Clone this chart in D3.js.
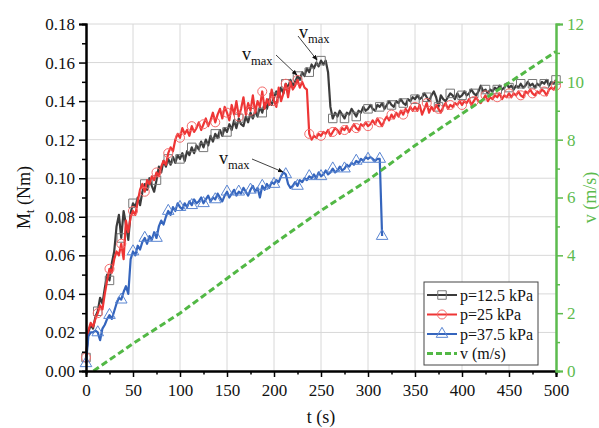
<!DOCTYPE html>
<html>
<head>
<meta charset="utf-8">
<script src="https://cdn.jsdelivr.net/npm/d3@7/dist/d3.min.js"></script>
<style>
body { margin: 0; background: #fff; }
svg text { font-family: "Liberation Serif", "DejaVu Serif", serif; }
</style>
</head>
<body>
<svg width="599" height="428"></svg>
<script>
/*
*/

const STEP = 2.5;

var torque12 = [
	0.007, 0.020, 0.024, 0.022, 0.028, 0.031, 0.038, 0.035, 0.043, 0.050, 0.047, 0.056, 0.062, 0.075, 0.081, 0.069, 0.083, 0.076, 0.068, 0.082, 0.087,
	0.085, 0.090, 0.086, 0.093, 0.097, 0.094, 0.100, 0.096, 0.093, 0.099, 0.106, 0.103, 0.109, 0.106, 0.110, 0.107, 0.111, 0.108, 0.112, 0.110,
	0.113, 0.109, 0.114, 0.112, 0.116, 0.113, 0.117, 0.115, 0.119, 0.116, 0.120, 0.117, 0.122, 0.119, 0.123, 0.121, 0.125, 0.122, 0.126, 0.124,
	0.128, 0.125, 0.130, 0.126, 0.131, 0.128, 0.127, 0.132, 0.129, 0.134, 0.131, 0.135, 0.132, 0.137, 0.134, 0.139, 0.136, 0.141, 0.138, 0.142,
	0.145, 0.142, 0.147, 0.144, 0.149, 0.147, 0.151, 0.148, 0.150, 0.153, 0.151, 0.155, 0.153, 0.157, 0.155, 0.159, 0.157, 0.160, 0.158, 0.161,
	0.159, 0.161, 0.155, 0.137, 0.131, 0.134, 0.132, 0.135, 0.133, 0.131, 0.134, 0.133, 0.136, 0.134, 0.132, 0.135, 0.134, 0.137, 0.135, 0.136,
	0.138, 0.136, 0.135, 0.138, 0.137, 0.139, 0.136, 0.138, 0.140, 0.138, 0.137, 0.140, 0.139, 0.141, 0.139, 0.138, 0.141, 0.140, 0.142, 0.141,
	0.143, 0.141, 0.142, 0.144, 0.142, 0.140, 0.143, 0.145, 0.142, 0.137, 0.143, 0.141, 0.140, 0.142, 0.144, 0.143, 0.141, 0.144, 0.142, 0.143,
	0.145, 0.143, 0.144, 0.146, 0.144, 0.143, 0.145, 0.148, 0.145, 0.146, 0.144, 0.146, 0.145, 0.147, 0.146, 0.148, 0.146, 0.147, 0.149, 0.147,
	0.148, 0.146, 0.148, 0.147, 0.149, 0.147, 0.148, 0.150, 0.148, 0.149, 0.147, 0.149, 0.148, 0.150, 0.149, 0.151, 0.148, 0.150, 0.149, 0.151
];

var torque25 = [
	0.007, 0.021, 0.025, 0.023, 0.027, 0.030, 0.034, 0.032, 0.040, 0.047, 0.053, 0.051, 0.058, 0.062, 0.060, 0.066, 0.058, 0.078, 0.072, 0.080, 0.083,
	0.081, 0.088, 0.094, 0.097, 0.093, 0.099, 0.097, 0.101, 0.099, 0.103, 0.101, 0.106, 0.109, 0.107, 0.113, 0.116, 0.114, 0.120, 0.123, 0.121,
	0.126, 0.123, 0.125, 0.122, 0.127, 0.124, 0.126, 0.129, 0.125, 0.128, 0.131, 0.127, 0.130, 0.134, 0.129, 0.133, 0.136, 0.131, 0.137, 0.134,
	0.130, 0.138, 0.133, 0.140, 0.132, 0.136, 0.142, 0.133, 0.139, 0.135, 0.143, 0.134, 0.140, 0.137, 0.145, 0.136, 0.141, 0.138, 0.146, 0.140,
	0.137, 0.147, 0.140, 0.144, 0.149, 0.142, 0.150, 0.146, 0.148, 0.151, 0.147, 0.150, 0.147, 0.146, 0.123, 0.120, 0.122, 0.121, 0.123, 0.122,
	0.124, 0.123, 0.125, 0.122, 0.124, 0.126, 0.125, 0.123, 0.126, 0.125, 0.127, 0.124, 0.126, 0.128, 0.126, 0.125, 0.128, 0.127, 0.129, 0.127,
	0.128, 0.130, 0.128, 0.131, 0.129, 0.127, 0.130, 0.132, 0.130, 0.133, 0.131, 0.134, 0.132, 0.135, 0.133, 0.136, 0.134, 0.137, 0.135, 0.137,
	0.135, 0.138, 0.133, 0.136, 0.139, 0.134, 0.137, 0.135, 0.138, 0.136, 0.134, 0.137, 0.139, 0.136, 0.138, 0.137, 0.139, 0.138, 0.140, 0.138,
	0.140, 0.139, 0.141, 0.138, 0.140, 0.142, 0.140, 0.139, 0.141, 0.143, 0.140, 0.142, 0.141, 0.143, 0.142, 0.144, 0.141, 0.143, 0.142, 0.144,
	0.142, 0.144, 0.143, 0.145, 0.143, 0.142, 0.145, 0.144, 0.146, 0.144, 0.143, 0.145, 0.144, 0.146, 0.145, 0.143, 0.146, 0.147, 0.146, 0.148
];

var torque37 = [
	0.004, 0.018, 0.020, 0.020, 0.021, 0.020, 0.016, 0.022, 0.024, 0.027, 0.029, 0.027, 0.031, 0.035, 0.038, 0.037, 0.041, 0.044, 0.040, 0.058, 0.062,
	0.060, 0.065, 0.063, 0.067, 0.069, 0.066, 0.070, 0.068, 0.072, 0.069, 0.075, 0.078, 0.076, 0.080, 0.083, 0.081, 0.085, 0.083, 0.087, 0.085,
	0.084, 0.087, 0.085, 0.088, 0.086, 0.089, 0.087, 0.088, 0.090, 0.087, 0.089, 0.091, 0.088, 0.090, 0.089, 0.092, 0.090, 0.088, 0.091, 0.093,
	0.090, 0.092, 0.094, 0.091, 0.093, 0.092, 0.095, 0.093, 0.091, 0.094, 0.096, 0.093, 0.095, 0.090, 0.096, 0.094, 0.097, 0.095, 0.098, 0.097,
	0.099, 0.098, 0.101, 0.103, 0.102, 0.097, 0.095, 0.096, 0.098, 0.096, 0.099, 0.098, 0.100, 0.099, 0.101, 0.100, 0.102, 0.100, 0.103, 0.101,
	0.102, 0.104, 0.102, 0.103, 0.105, 0.103, 0.104, 0.106, 0.104, 0.105, 0.107, 0.106, 0.108, 0.107, 0.109, 0.108, 0.110, 0.109, 0.111, 0.110,
	0.111, 0.110, 0.109, 0.110, 0.110, 0.070
];

// belt speed, right axis
var speedTime = [8, 50, 100, 150, 200, 250, 300, 350, 400, 450, 500];
var speedValue = [0, 0.95, 2.0, 3.2, 4.4, 5.55, 6.6, 7.8, 8.9, 9.97, 11.05];

var seriesNames = ['p=12.5 kPa', 'p=25 kPa', 'p=37.5 kPa', 'v (m/s)'];
var xTicks = [0, 50, 100, 150, 200, 250, 300, 350, 400, 450, 500];
var yTicks = [0, 0.02, 0.04, 0.06, 0.08, 0.10, 0.12, 0.14, 0.16, 0.18];
var vTicks = [0, 2, 4, 6, 8, 10, 12];

/*
Colours
*/

const blackLine = '#3c3c3c';
const redLine = '#ee3535';
const blueLine = '#3565bd';
const greenLine = '#52b845';
const axisGreen = '#5dbb4e';
const serif = '"Liberation Serif", "DejaVu Serif", serif';

/*
Layout
*/

var svg = d3.select('svg');
var plotLeft = 86, plotRight = 556, plotTop = 24, plotBottom = 371;

var x = d3.scaleLinear().domain([0, 500]).range([plotLeft, plotRight]);
var y = d3.scaleLinear().domain([0, 0.18]).range([plotBottom, plotTop]);
var yv = d3.scaleLinear().domain([0, 12]).range([plotBottom, plotTop]);

// grid
var grid = svg.append('g').attr('class', 'grid');
grid.selectAll('line.gx')
	.data(xTicks.slice(1, -1))
	.enter().append('line')
		.attr('x1', function(d){ return x(d); })
		.attr('x2', function(d){ return x(d); })
		.attr('y1', plotTop).attr('y2', plotBottom)
		.attr('stroke', '#d8d8d8').attr('stroke-width', 1);
grid.selectAll('line.gy')
	.data(yTicks.slice(1))
	.enter().append('line')
		.attr('x1', plotLeft).attr('x2', plotRight)
		.attr('y1', function(d){ return y(d); })
		.attr('y2', function(d){ return y(d); })
		.attr('stroke', '#d8d8d8').attr('stroke-width', 1);

/*
Series
*/

function toPoints(values){
	return values.map(function(v, i){ return { t: i * STEP, m: v }; });
}

var line = d3.line()
	.x(function(d){ return x(d.t); })
	.y(function(d){ return y(d.m); });

var series = [
	{ name: seriesNames[0], pts: toPoints(torque12), color: blackLine, mark: 'square', markColor: '#777' },
	{ name: seriesNames[1], pts: toPoints(torque25), color: redLine, mark: 'circle', markColor: '#f46a6a' },
	{ name: seriesNames[2], pts: toPoints(torque37), color: blueLine, mark: 'triangle', markColor: '#5b86d2' }
];

function symbolFor(kind){
	if(kind == 'square'){
		return d3.symbol().type(d3.symbolSquare).size(72);
	}
	else if(kind == 'circle'){
		return d3.symbol().type(d3.symbolCircle).size(64);
	}
	else {
		return d3.symbol().type(d3.symbolTriangle).size(58);
	}
}

series.forEach(function(s){
	svg.append('path')
		.datum(s.pts)
		.attr('fill', 'none')
		.attr('stroke', s.color)
		.attr('stroke-width', 2.2)
		.attr('stroke-linejoin', 'round')
		.attr('d', line);

	var marks = s.pts.filter(function(d, i){ return i % 5 == 0 || i == s.pts.length - 1; });
	svg.append('g').selectAll('path')
		.data(marks)
		.enter().append('path')
			.attr('d', symbolFor(s.mark))
			.attr('transform', function(d){ return 'translate(' + x(d.t) + ',' + y(d.m) + ')'; })
			.attr('fill', 'none')
			.attr('stroke', s.markColor)
			.attr('stroke-width', 1);
});

// speed line
var speedPts = speedTime.map(function(t, i){ return { t: t, v: speedValue[i] }; });
svg.append('path')
	.datum(speedPts)
	.attr('fill', 'none')
	.attr('stroke', greenLine)
	.attr('stroke-width', 3)
	.attr('stroke-dasharray', '6.5,3.5')
	.attr('d', d3.line()
		.x(function(d){ return x(d.t); })
		.y(function(d){ return yv(d.v); }));

/*
Axes
*/

svg.append('g')
	.attr('transform', 'translate(0,' + plotBottom + ')')
	.call(d3.axisBottom(x).tickValues(xTicks).tickSize(6).tickPadding(7).tickFormat(d3.format('d')));
svg.append('g')
	.attr('transform', 'translate(0,' + plotBottom + ')')
	.call(d3.axisBottom(x).tickValues(d3.range(25, 500, 50)).tickSize(3.5).tickFormat(''));

svg.append('g')
	.attr('transform', 'translate(' + plotLeft + ',0)')
	.call(d3.axisLeft(y).tickValues(yTicks).tickSize(7).tickPadding(4).tickFormat(d3.format('.2f')));
svg.append('g')
	.attr('transform', 'translate(' + plotLeft + ',0)')
	.call(d3.axisLeft(y).tickValues(d3.range(0.01, 0.18, 0.02)).tickSize(4).tickFormat(''));

svg.append('g')
	.attr('class', 'vaxis')
	.attr('transform', 'translate(' + plotRight + ',0)')
	.call(d3.axisRight(yv).tickValues(vTicks).tickSize(7).tickPadding(4).tickFormat(d3.format('d')));
svg.append('g')
	.attr('class', 'vaxis')
	.attr('transform', 'translate(' + plotRight + ',0)')
	.call(d3.axisRight(yv).tickValues([1, 3, 5, 7, 9, 11]).tickSize(4).tickFormat(''));

svg.selectAll('.domain').attr('stroke-width', 2);
svg.selectAll('.tick line').attr('stroke-width', 1.5);
svg.selectAll('g').attr('font-family', serif);
svg.selectAll('.tick text').attr('font-size', 17).attr('fill', '#111');

svg.selectAll('.vaxis .tick text').attr('fill', axisGreen);
svg.selectAll('.vaxis .domain, .vaxis .tick line').attr('stroke', axisGreen);

// axis titles
svg.append('text')
	.attr('transform', 'translate(30,' + ((plotTop + plotBottom) / 2) + ') rotate(-90)')
	.attr('text-anchor', 'middle')
	.attr('font-size', 18)
	.attr('fill', '#111')
	.html('M<tspan font-size="12" dy="4">t</tspan><tspan dy="-4"> (Nm)</tspan>');

svg.append('text')
	.attr('x', (plotLeft + plotRight) / 2)
	.attr('y', 423)
	.attr('text-anchor', 'middle')
	.attr('font-size', 18)
	.attr('fill', '#111')
	.text('t (s)');

svg.append('text')
	.attr('transform', 'translate(596,' + ((plotTop + plotBottom) / 2) + ') rotate(-90)')
	.attr('text-anchor', 'middle')
	.attr('font-size', 18)
	.attr('fill', axisGreen)
	.text('v (m/s)');

/*
v_max annotations
*/

svg.append('defs').append('marker')
	.attr('id', 'arrow')
	.attr('viewBox', '0 0 10 10')
	.attr('refX', 9).attr('refY', 5)
	.attr('markerWidth', 7).attr('markerHeight', 7)
	.attr('orient', 'auto')
	.append('path')
		.attr('d', 'M0,1 L10,5 L0,9 Z')
		.attr('fill', '#111');

var notes = [
	{ tx: 242, ty: 60, x1: 276, y1: 55, x2: 297, y2: 75 },
	{ tx: 299, ty: 38, x1: 298, y1: 36, x2: 317, y2: 60 },
	{ tx: 219, ty: 164, x1: 252, y1: 159, x2: 283, y2: 172 }
];

notes.forEach(function(n){
	svg.append('text')
		.attr('x', n.tx).attr('y', n.ty)
		.attr('font-size', 18)
		.attr('fill', '#111')
		.html('v<tspan font-size="12.5" dy="5">max</tspan>');
	svg.append('line')
		.attr('x1', n.x1).attr('y1', n.y1)
		.attr('x2', n.x2).attr('y2', n.y2)
		.attr('stroke', '#111').attr('stroke-width', 0.8)
		.attr('marker-end', 'url(#arrow)');
});

/*
Legend
*/

var legend = svg.append('g').attr('transform', 'translate(424,282)');
legend.append('rect')
	.attr('width', 114).attr('height', 83)
	.attr('fill', '#fff')
	.attr('stroke', '#444').attr('stroke-width', 1);

var legendItems = [
	{ color: blackLine, mark: 'square', markColor: '#777', dash: null },
	{ color: redLine, mark: 'circle', markColor: '#f46a6a', dash: null },
	{ color: blueLine, mark: 'triangle', markColor: '#5b86d2', dash: null },
	{ color: greenLine, mark: null, markColor: null, dash: '6,3' }
];

legendItems.forEach(function(item, i){
	var yy = 13 + i * 19.5;
	legend.append('line')
		.attr('x1', 3).attr('x2', 33)
		.attr('y1', yy).attr('y2', yy)
		.attr('stroke', item.color)
		.attr('stroke-width', item.dash ? 3 : 2)
		.attr('stroke-dasharray', item.dash);
	if(item.mark){
		legend.append('path')
			.attr('d', symbolFor(item.mark))
			.attr('transform', 'translate(18,' + yy + ')')
			.attr('fill', 'none')
			.attr('stroke', item.markColor)
			.attr('stroke-width', 1);
	}
	legend.append('text')
		.attr('x', 36).attr('y', yy + 5.5)
		.attr('font-size', 16)
		.attr('fill', '#111')
		.text(seriesNames[i]);
});
</script>
</body>
</html>
